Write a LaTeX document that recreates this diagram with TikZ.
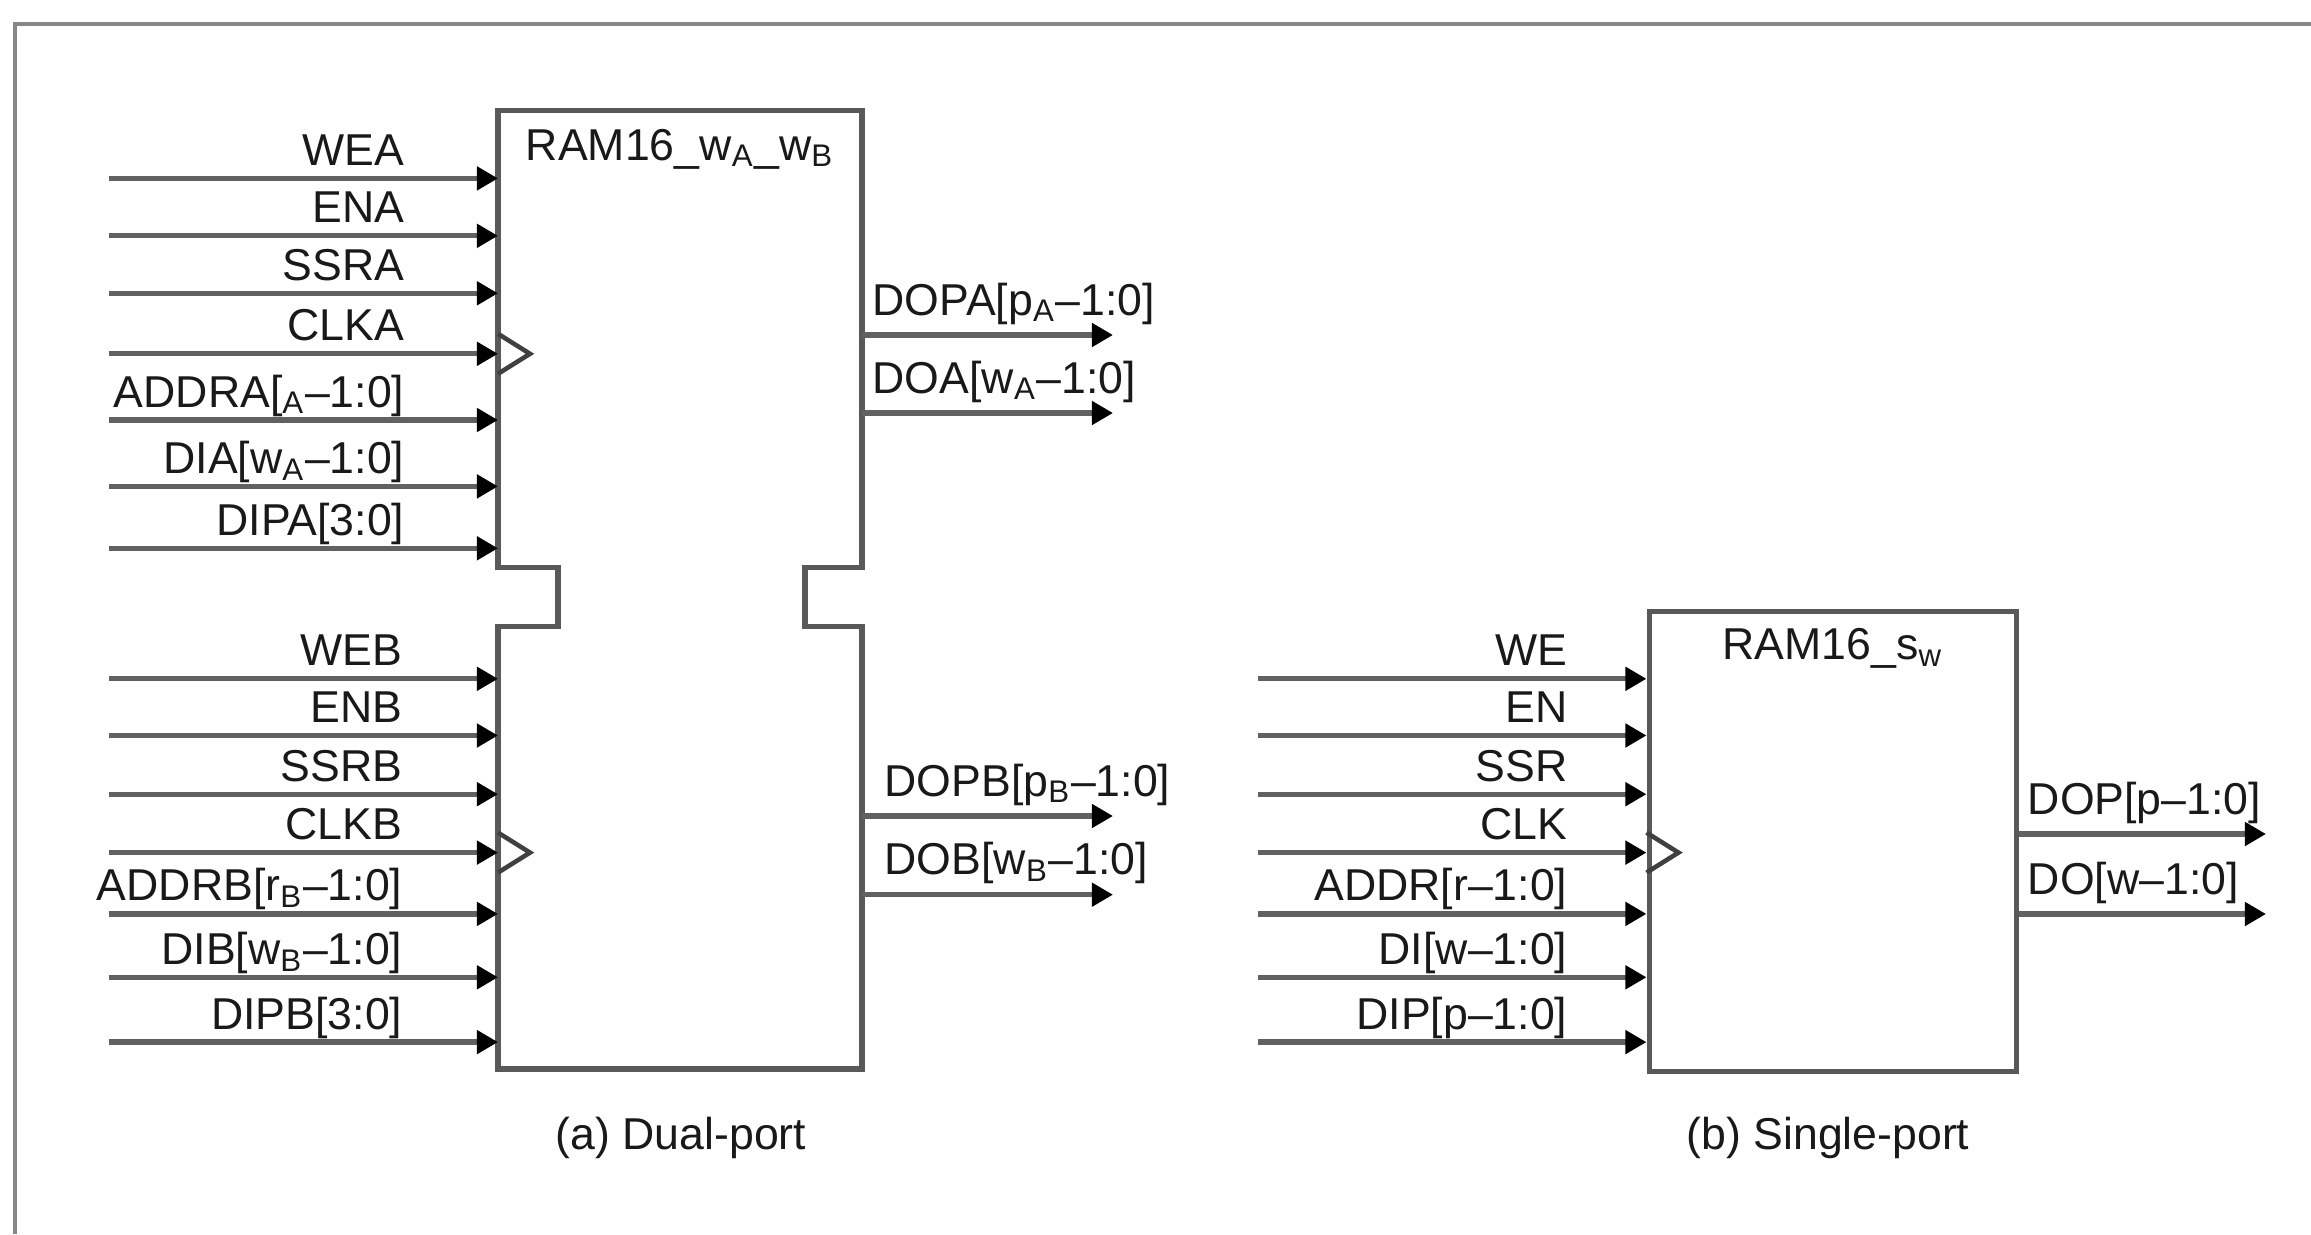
\documentclass[tikz,border=0pt]{standalone}
\usepackage{fontspec}
\setmainfont{Liberation Sans}
\usepackage{tikz}
\usetikzlibrary{arrows.meta, positioning, calc}

\tikzset{
  pin/.style={line width=1.5pt, draw=black!62, -{Triangle[length=6pt,width=6.5pt,color=black]}},
  boxline/.style={line width=1.6pt, draw=black!65},
  clk/.style={line width=1.3pt, draw=black!75},
  lbl/.style={inner sep=0pt, text=black!90, font=\fontsize{12.7}{15}\selectfont},
}

\begin{document}
\begin{tikzpicture}
    \useasboundingbox (0,0) rectangle (23.11,12.34);

    % Frame
    \draw[line width=1.1pt, black!47] (0.15,0) -- (0.15,12.10) -- (23.11,12.10);

    % Dual-port block
    \coordinate (dpW) at (4.98,0);
    \coordinate (dpE) at (8.62,0);
    \draw[boxline] (4.98,11.235) -- (8.62,11.235) -- (8.62,6.665) -- (8.05,6.665)
        -- (8.05,6.075) -- (8.62,6.075) -- (8.62,1.653) -- (4.98,1.653)
        -- (4.98,6.075) -- (5.58,6.075) -- (5.58,6.665) -- (4.98,6.665) -- cycle;
    \node[lbl, anchor=base] (dpTitle) at (6.80,10.74) {RAM16\_w\textsubscript{A}\_w\textsubscript{B}};

    % Port A inputs
    \foreach \y/\lab [count=\i] in {10.556/{WEA}, 9.982/{ENA}, 9.407/{SSRA}, 8.802/{CLKA},
        8.14/{ADDRA[\textsubscript{A}–1:0]}, 7.476/{DIA[w\textsubscript{A}–1:0]}, 6.857/{DIPA[3:0]}} {
        \coordinate (ina\i) at (1.09,\y);
        \draw[pin] (ina\i) -- (ina\i -| dpW);
        \node[lbl, anchor=base east] (lina\i) at ($(ina\i -| dpW)+(-0.93,0.13)$) {\lab};
    }
    \draw[clk] ($(ina4 -| dpW)+(0,0.2)$) -- ++(0.32,-0.2) -- ++(-0.32,-0.2);

    % Port B inputs
    \foreach \y/\lab [count=\i] in {5.552/{WEB}, 4.985/{ENB}, 4.398/{SSRB}, 3.814/{CLKB},
        3.201/{ADDRB[r\textsubscript{B}–1:0]}, 2.567/{DIB[w\textsubscript{B}–1:0]}, 1.919/{DIPB[3:0]}} {
        \coordinate (inb\i) at (1.09,\y);
        \draw[pin] (inb\i) -- (inb\i -| dpW);
        \node[lbl, anchor=base east] (linb\i) at ($(inb\i -| dpW)+(-0.95,0.13)$) {\lab};
    }
    \draw[clk] ($(inb4 -| dpW)+(0,0.2)$) -- ++(0.32,-0.2) -- ++(-0.32,-0.2);

    % Port A outputs
    \foreach \y/\lab [count=\i] in {8.99/{DOPA[p\textsubscript{A}–1:0]}, 8.21/{DOA[w\textsubscript{A}–1:0]}} {
        \coordinate (outa\i) at (11.13,\y);
        \draw[pin] (outa\i -| dpE) -- (outa\i);
        \node[lbl, anchor=base west] (louta\i) at ($(outa\i -| dpE)+(0.1,0.2)$) {\lab};
    }

    % Port B outputs
    \foreach \y/\lab [count=\i] in {4.18/{DOPB[p\textsubscript{B}–1:0]}, 3.393/{DOB[w\textsubscript{B}–1:0]}} {
        \coordinate (outb\i) at (11.13,\y);
        \draw[pin] (outb\i -| dpE) -- (outb\i);
        \node[lbl, anchor=base west] (loutb\i) at ($(outb\i -| dpE)+(0.22,0.2)$) {\lab};
    }

    \node[lbl] (capA) at (6.81,0.96) {(a) Dual-port};

    % Single-port block
    \node[boxline, draw, inner sep=0pt, minimum width=3.67cm, minimum height=4.599cm,
        anchor=north west] (sp) at (16.465,6.252) {};
    \node[lbl, anchor=base] (spTitle) at ($(sp.north)+(0,-0.51)$) {RAM16\_s\textsubscript{w}};

    % Single-port inputs
    \foreach \y/\lab [count=\i] in {5.552/{WE}, 4.985/{EN}, 4.398/{SSR}, 3.814/{CLK},
        3.201/{ADDR[r–1:0]}, 2.567/{DI[w–1:0]}, 1.919/{DIP[p–1:0]}} {
        \coordinate (ins\i) at (12.58,\y);
        \draw[pin] (ins\i) -- (ins\i -| sp.west);
        \node[lbl, anchor=base east] (lins\i) at ($(ins\i -| sp.west)+(-0.785,0.13)$) {\lab};
    }
    \draw[clk] ($(ins4 -| sp.west)+(0,0.2)$) -- ++(0.32,-0.2) -- ++(-0.32,-0.2);

    % Single-port outputs
    \foreach \y/\lab [count=\i] in {4.0/{DOP[p–1:0]}, 3.2/{DO[w–1:0]}} {
        \coordinate (outs\i) at (22.66,\y);
        \draw[pin] (outs\i -| sp.east) -- (outs\i);
        \node[lbl, anchor=base west] (louts\i) at ($(outs\i -| sp.east)+(0.08,0.2)$) {\lab};
    }

    \node[lbl] (capB) at (18.28,0.96) {(b) Single-port};
\end{tikzpicture}
\end{document}
